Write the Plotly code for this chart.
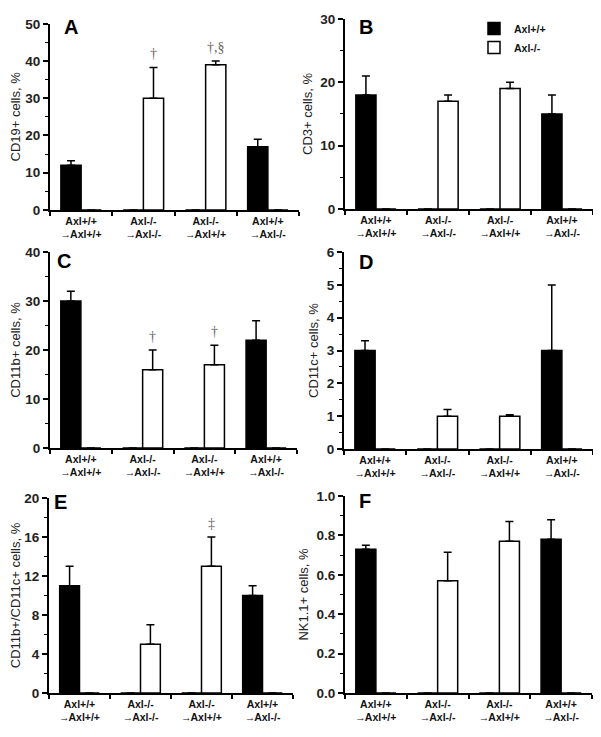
import plotly.graph_objects as go

ARROW = "<span style='letter-spacing:-1px'>→</span>"
categories = ["Axl+/+<br>" + ARROW + "Axl+/+",
              "Axl-/-<br>" + ARROW + "Axl-/-",
              "Axl-/-<br>" + ARROW + "Axl+/+",
              "Axl+/+<br>" + ARROW + "Axl-/-"]
donor = ["Axl+/+", "Axl-/-", "Axl-/-", "Axl+/+"]

panel_letters = ["A", "B", "C", "D", "E", "F"]
y_titles = ["CD19+ cells, %", "CD3+ cells, %", "CD11b+ cells, %", "CD11c+ cells, %",
            "CD11b+/CD11c+ cells, %", "NK1.1+ cells, %"]

cd19_vals = [12, 30, 39, 17]
cd19_err = [1.2, 8.3, 1, 2]
cd3_vals = [18, 17, 19, 15]
cd3_err = [3, 1, 1, 3]
cd11b_vals = [30, 16, 17, 22]
cd11b_err = [2, 4, 4, 4]
cd11c_vals = [3, 1, 1, 3]
cd11c_err = [0.3, 0.2, 0.04, 2]
dc_vals = [11, 5, 13, 10]
dc_err = [2, 2, 3, 1]
nk_vals = [0.73, 0.57, 0.77, 0.78]
nk_err = [0.02, 0.145, 0.1, 0.1]

values = [cd19_vals, cd3_vals, cd11b_vals, cd11c_vals, dc_vals, nk_vals]
errors = [cd19_err, cd3_err, cd11b_err, cd11c_err, dc_err, nk_err]

y_max = [50, 30, 40, 6, 20, 1.0]
y_dtick = [10, 10, 10, 1, 4, 0.2]
y_minor = [5, 5, 5, 0.5, 2, 0.1]
y_fmt = ["d", "d", "d", "d", "d", ".1f"]

sig_marks = [["", "†", "†,§", ""], ["", "", "", ""], ["", "†", "†", ""],
             ["", "", "", ""], ["", "", "‡", ""], ["", "", "", ""]]

# layout in screen pixels (the page body adds an 8px offset)
W, H = 601, 737
OFF = 8
def sx(p):
    return (p - OFF) / W
def sy(p):
    return 1 - (p - OFF) / H

px_dom = [((50, 299), (17, 207)), ((345, 593), (12, 206)),
          ((50, 297), (250, 450)), ((344, 593), (250, 451)),
          ((49, 293), (501, 700)), ((345, 592), (499, 700))]
letter_px = [(62, 20), (357, 20), (55, 259), (357, 260), (52, 505), (357, 504)]

fig = go.Figure()
BOLD = dict(family="Liberation Sans, Arial", weight="bold")

for i in range(6):
    n = "" if i == 0 else str(i + 1)
    xa, ya = "x" + n, "y" + n
    vals, errs = values[i], errors[i]
    wt_y = [v if d == "Axl+/+" else 0 for v, d in zip(vals, donor)]
    wt_e = [e if d == "Axl+/+" else None for e, d in zip(errs, donor)]
    ko_y = [v if d == "Axl-/-" else 0 for v, d in zip(vals, donor)]
    ko_e = [e if d == "Axl-/-" else None for e, d in zip(errs, donor)]
    for name, yy, ee, col in [("Axl+/+", wt_y, wt_e, "black"), ("Axl-/-", ko_y, ko_e, "white")]:
        fig.add_trace(go.Bar(
            x=categories, y=yy, name=name, xaxis=xa, yaxis=ya,
            marker=dict(color=col, line=dict(color="black", width=1.5)),
            error_y=dict(type="data", array=ee, symmetric=False,
                         arrayminus=[0] * 4, color="black", thickness=1.5, width=4),
            showlegend=(i == 0), legendgroup=name, hoverinfo="skip",
        ))
    (x0, x1), (yt, yb) = px_dom[i]
    fig.layout["xaxis" + n] = dict(
        domain=[sx(x0), sx(x1)], anchor=ya, type="category",
        showline=True, linecolor="black", linewidth=2,
        ticks="outside", ticklen=4, tickwidth=1.5, tickcolor="black",
        tickson="boundaries", showgrid=False,
        tickfont=dict(size=10.5, color="#111", **BOLD),
    )
    fig.layout["yaxis" + n] = dict(
        domain=[sy(yb), sy(yt)], anchor=xa,
        range=[0, y_max[i]], dtick=y_dtick[i], tickformat=y_fmt[i],
        showline=True, linecolor="black", linewidth=2,
        ticks="outside", ticklen=5, tickwidth=1.5, tickcolor="black",
        minor=dict(dtick=y_minor[i], ticks="outside", ticklen=3, tickwidth=1, tickcolor="black"),
        showgrid=False, zeroline=False,
        tickfont=dict(size=13.5, color="#222", **BOLD),
        title=dict(text=y_titles[i], font=dict(size=13, color="#222", family="Liberation Sans, Arial"),
                   standoff=5),
    )
    lx, ly = letter_px[i]
    fig.add_annotation(xref="paper", yref="paper", x=sx(lx), y=sy(ly),
                       text=panel_letters[i], showarrow=False, xanchor="left", yanchor="middle",
                       font=dict(size=20, color="black", **BOLD))
    for c, mark in enumerate(sig_marks[i]):
        if mark:
            fig.add_annotation(xref=xa, yref=ya, x=categories[c], y=vals[c] + errs[c],
                               xshift=10, yshift=4, text=mark, showarrow=False, yanchor="bottom",
                               font=dict(size=14, color="#666", family="Liberation Serif, Times New Roman"))

fig.update_layout(
    width=W, height=H, margin=dict(l=0, r=0, t=0, b=0),
    paper_bgcolor="white", plot_bgcolor="white",
    barmode="group", bargap=0.35, bargroupgap=0,
    legend=dict(x=sx(474), y=sy(7), xanchor="left", yanchor="top",
                font=dict(size=10.5, color="#111", **BOLD), bgcolor="rgba(0,0,0,0)",
                itemwidth=30, tracegroupgap=0),
)

fig.write_html("out.html", config={"displayModeBar": False})
